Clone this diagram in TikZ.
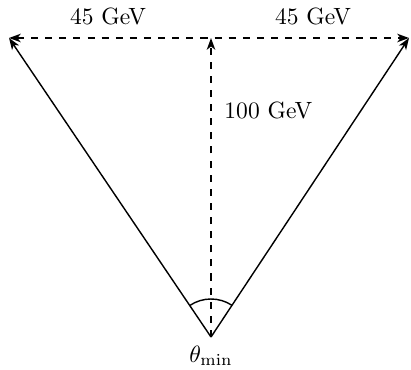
\documentclass[tikz,border=0pt]{standalone}
\usetikzlibrary{arrows.meta}
\begin{document}
\begin{tikzpicture}[x=0.425pt,y=-0.425pt,
  vec/.style={line width=0.6pt,-{Stealth[length=5pt,width=3.6pt,inset=1.4pt]}},
  dvec/.style={vec,dashed},
  lbl/.style={inner sep=0pt}]
\useasboundingbox (0,0) rectangle (411,370);
\coordinate (O) at (211,337);
\coordinate (L) at (9,38);
\coordinate (R) at (409,38);
\coordinate (T) at (211,38);
\draw[vec] (O) -- (L);
\draw[vec] (O) -- (R);
\draw[dvec] (O) -- (T);
\draw[dvec,{Stealth[length=5pt,width=3.6pt,inset=1.4pt]}-{Stealth[length=5pt,width=3.6pt,inset=1.4pt]}] (L) -- (R);
\draw[line width=0.6pt] ([shift={(124.05:38*0.425pt)}]O) arc[start angle=124.05,end angle=56.5,radius=38*0.425pt];
\node[lbl] (a) at (108,16) {45 GeV};
\node[lbl] (b) at (313,16) {45 GeV};
\node[lbl,anchor=west] (c) at (224,110) {100 GeV};
\node[lbl] (th) at (211,356) {$\theta_{\min}$};
\end{tikzpicture}
\end{document}
